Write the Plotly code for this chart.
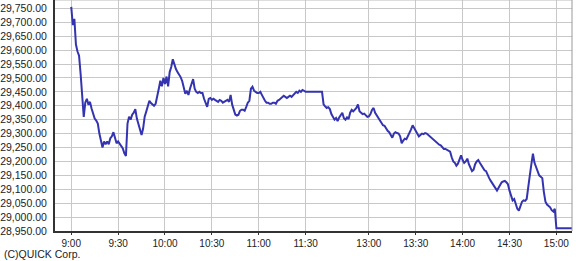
import plotly.graph_objects as go

# ---- data ----
am_times = [
    "9:00", "9:01", "9:02", "9:03", "9:04", "9:05", "9:06", "9:07", "9:08", "9:09",
    "9:10", "9:11", "9:12", "9:13", "9:14", "9:15", "9:16", "9:17", "9:18", "9:19",
    "9:20", "9:21", "9:22", "9:23", "9:24", "9:25", "9:26", "9:27", "9:28", "9:29",
    "9:30", "9:31", "9:32", "9:33", "9:34", "9:35", "9:36", "9:37", "9:38", "9:39",
    "9:40", "9:41", "9:42", "9:43", "9:44", "9:45", "9:46", "9:47", "9:48", "9:49",
    "9:50", "9:51", "9:52", "9:53", "9:54", "9:55", "9:56", "9:57", "9:58", "9:59",
    "10:00", "10:01", "10:02", "10:03", "10:04", "10:05", "10:06", "10:07", "10:08", "10:09",
    "10:10", "10:11", "10:12", "10:13", "10:14", "10:15", "10:16", "10:17", "10:18", "10:19",
    "10:20", "10:21", "10:22", "10:23", "10:24", "10:25", "10:26", "10:27", "10:28", "10:29",
    "10:30", "10:31", "10:32", "10:33", "10:34", "10:35", "10:36", "10:37", "10:38", "10:39",
    "10:40", "10:41", "10:42", "10:43", "10:44", "10:45", "10:46", "10:47", "10:48", "10:49",
    "10:50", "10:51", "10:52", "10:53", "10:54", "10:55", "10:56", "10:57", "10:58", "10:59",
    "11:00", "11:01", "11:02", "11:03", "11:04", "11:05", "11:06", "11:07", "11:08", "11:09",
    "11:10", "11:11", "11:12", "11:13", "11:14", "11:15", "11:16", "11:17", "11:18", "11:19",
    "11:20", "11:21", "11:22", "11:23", "11:24", "11:25", "11:26", "11:27", "11:28", "11:29",
    "11:30", "12:30",
]
am_values = [
    29755, 29690, 29712, 29620, 29595, 29580, 29514, 29440, 29360, 29412,
    29425, 29404, 29414, 29390, 29371, 29354, 29347, 29336, 29300, 29272,
    29250, 29272, 29262, 29272, 29262, 29283, 29290, 29305, 29283, 29265,
    29272, 29262, 29254, 29247, 29229, 29220, 29336, 29361, 29350, 29368,
    29375, 29388, 29354, 29333, 29311, 29295, 29318, 29361, 29379, 29404,
    29418, 29410, 29404, 29400, 29407, 29440, 29460, 29490, 29470, 29500,
    29478, 29505, 29470, 29521, 29539, 29567, 29546, 29532, 29521, 29514,
    29503, 29489, 29468, 29443, 29454, 29439, 29461, 29475, 29496, 29461,
    29450, 29446, 29450, 29446, 29446, 29425, 29411, 29396, 29425, 29428,
    29421, 29425, 29421, 29418, 29414, 29421, 29418, 29411, 29414, 29418,
    29421, 29414, 29439, 29404, 29382, 29368, 29365, 29368, 29382, 29386,
    29386, 29382, 29396, 29411, 29418, 29461, 29468, 29454, 29450, 29446,
    29446, 29450, 29439, 29425, 29418, 29411, 29411, 29407, 29407, 29411,
    29411, 29407, 29418, 29421, 29425, 29432, 29436, 29432, 29428, 29432,
    29436, 29432, 29439, 29443, 29450, 29446, 29454, 29450, 29457, 29454,
    29450, 29450,
]

pm_times = [
    "12:31", "12:32", "12:33", "12:34", "12:35", "12:36", "12:37", "12:38", "12:39",
    "12:40", "12:41", "12:42", "12:43", "12:44", "12:45", "12:46", "12:47", "12:48", "12:49",
    "12:50", "12:51", "12:52", "12:53", "12:54", "12:55", "12:56", "12:57", "12:58", "12:59",
    "13:00", "13:01", "13:02", "13:03", "13:04", "13:05", "13:06", "13:07", "13:08", "13:09",
    "13:10", "13:11", "13:12", "13:13", "13:14", "13:15", "13:16", "13:17", "13:18", "13:19",
    "13:20", "13:21", "13:22", "13:23", "13:24", "13:25", "13:26", "13:27", "13:28", "13:29",
    "13:30", "13:31", "13:32", "13:33", "13:34", "13:35", "13:36", "13:37", "13:38", "13:39",
    "13:40", "13:41", "13:42", "13:43", "13:44", "13:45", "13:46", "13:47", "13:48", "13:49",
    "13:50", "13:51", "13:52", "13:53", "13:54", "13:55", "13:56", "13:57", "13:58", "13:59",
    "14:00", "14:01", "14:02", "14:03", "14:04", "14:05", "14:06", "14:07", "14:08", "14:09",
    "14:10", "14:11", "14:12", "14:13", "14:14", "14:15", "14:16", "14:17", "14:18", "14:19",
    "14:20", "14:21", "14:22", "14:23", "14:24", "14:25", "14:26", "14:27", "14:28", "14:29",
    "14:30", "14:31", "14:32", "14:33", "14:34", "14:35", "14:36", "14:37", "14:38", "14:39",
    "14:40", "14:41", "14:42", "14:43", "14:44", "14:45", "14:46", "14:47", "14:48", "14:49",
    "14:50", "14:51", "14:52", "14:53", "14:54", "14:55", "14:56", "14:57", "14:58", "14:59",
    "15:00", "15:10",
]
pm_values = [
    29405, 29398, 29392, 29395, 29388, 29370, 29360, 29350, 29356,
    29345, 29358, 29365, 29375, 29355, 29350, 29358, 29352, 29375, 29385,
    29380, 29388, 29392, 29405, 29380, 29375, 29370, 29372, 29365, 29360,
    29362, 29370, 29385, 29392, 29375, 29365, 29355, 29345, 29340, 29330,
    29328, 29318, 29310, 29305, 29295, 29285, 29300, 29305, 29302, 29300,
    29290, 29265, 29275, 29282, 29280, 29290, 29300, 29315, 29330, 29320,
    29305, 29300, 29290, 29295, 29300, 29298, 29302, 29300, 29295, 29290,
    29282, 29278, 29275, 29270, 29262, 29260, 29258, 29250, 29245, 29245,
    29242, 29240, 29235, 29215, 29200, 29195, 29185, 29192, 29205, 29222,
    29205, 29195, 29200, 29210, 29190, 29175, 29165, 29170, 29190, 29200,
    29205, 29195, 29185, 29175, 29168, 29165, 29150, 29140, 29130, 29120,
    29110, 29100, 29095, 29105, 29115, 29125, 29128, 29130, 29125, 29118,
    29095, 29075, 29060, 29065, 29045, 29030, 29023, 29040, 29055, 29060,
    29058, 29065, 29120, 29150, 29190, 29228, 29195, 29180, 29165, 29150,
    29145, 29140, 29090, 29055, 29045, 29040, 29035, 29025, 29020, 29030,
    28960, 28960,
]

tick_labels = ["9:00", "9:30", "10:00", "10:30", "11:00", "11:30",
               "13:00", "13:30", "14:00", "14:30", "15:00"]
y_ticks = [28950 + 50 * i for i in range(17)]

LUNCH_GAP = 10.5  # compressed lunch break (axis units)


def to_unit(t):
    h, m = map(int, t.split(":"))
    mins = h * 60 + m
    if mins <= 11 * 60 + 30:
        return mins - 540
    return 150 + LUNCH_GAP + (mins - 750)


x_vals = [to_unit(t) for t in am_times + pm_times]
y_vals = am_values + pm_values

fig = go.Figure()
fig.add_trace(go.Scatter(
    x=x_vals, y=y_vals, mode="lines",
    line=dict(color="#3434b0", width=2),
    hoverinfo="skip",
))

font_main = dict(family="Liberation Sans, Arial, sans-serif", size=10.5, color="#222222")
font_x = dict(family="Liberation Sans, Arial, sans-serif", size=10, color="#222222")

fig.update_layout(
    width=579, height=261,
    margin=dict(l=52, r=7, t=0, b=30),
    paper_bgcolor="white", plot_bgcolor="white",
    showlegend=False,
    font=font_main,
    xaxis=dict(
        range=[-10.4, 320.5],
        tickvals=[to_unit(t) for t in tick_labels],
        ticktext=tick_labels,
        showgrid=True, gridcolor="#c8c8c8", gridwidth=1,
        showline=True, linecolor="#333333", linewidth=2,
        ticks="outside", ticklen=2, tickcolor="#333333", tickwidth=1,
        zeroline=False, tickfont=font_x,
    ),
    yaxis=dict(
        range=[28950, 29780],
        tickvals=y_ticks,
        tickformat=",.2f",
        showgrid=True, gridcolor="#c8c8c8", gridwidth=1,
        showline=True, linecolor="#333333", linewidth=2,
        ticks="", ticklabelstandoff=4,
        zeroline=False, tickfont=font_main,
    ),
    shapes=[
        dict(type="line", xref="paper", yref="paper", x0=0, x1=1, y0=1, y1=1,
             line=dict(color="#bbbbbb", width=1)),
        dict(type="line", xref="paper", yref="paper", x0=1, x1=1, y0=0, y1=1,
             line=dict(color="#999999", width=1)),
    ],
    annotations=[
        dict(text="(C)QUICK Corp.", xref="paper", yref="paper",
             x=-52 / 520, y=0, xanchor="left", yanchor="bottom", yshift=-30,
             showarrow=False, borderpad=0,
             font=dict(family="Liberation Sans, Arial, sans-serif", size=10.5, color="#222222")),
    ],
)

fig.write_html("out.html")
